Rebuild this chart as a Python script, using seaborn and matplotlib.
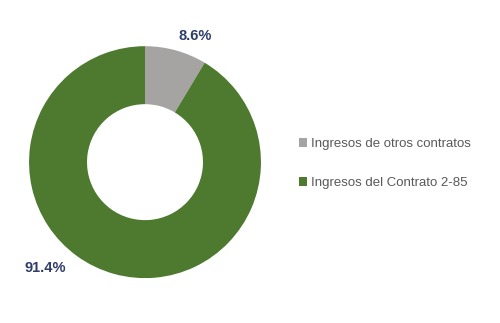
import matplotlib
matplotlib.use("Agg")
import matplotlib.pyplot as plt
import seaborn as sns
from matplotlib.patches import Patch

categories = ["Ingresos de otros contratos", "Ingresos del Contrato 2-85"]
values = [8.6, 91.4]
labels = ["8.6%", "91.4%"]
colors = ["#a6a3a3", "#4e7a30"]

sns.set_theme(style="white")
plt.rcParams['font.family'] = ['Liberation Sans', 'DejaVu Sans']

fig = plt.figure(figsize=(5.0, 3.23), dpi=100)
ax = fig.add_axes([0.058, 0.139, 0.464, 0.718])
wedges, _ = ax.pie(values, colors=colors, startangle=90, counterclock=False,
                   radius=1.0, wedgeprops=dict(width=0.5, edgecolor="none"))
ax.set_xlim(-1, 1)
ax.set_ylim(-1, 1)
ax.set_aspect("equal")
ax.axis("off")

lab_pos = [(0.43, 1.09), (-0.86, -0.91)]
for (x, y), t in zip(lab_pos, labels):
    ax.text(x, y, t, ha="center", va="center", fontsize=10.5, fontweight="bold",
            color="#2f3d6b", clip_on=False)

handles = [Patch(facecolor=c, edgecolor="none") for c in colors]
fig.legend(handles, categories, loc="center left", bbox_to_anchor=(0.575, 0.493),
           frameon=False, fontsize=9.5, labelcolor="#595959", handlelength=0.6,
           handleheight=0.6, handletextpad=0.3, labelspacing=2.05)

fig.savefig("out.png", dpi=100)
